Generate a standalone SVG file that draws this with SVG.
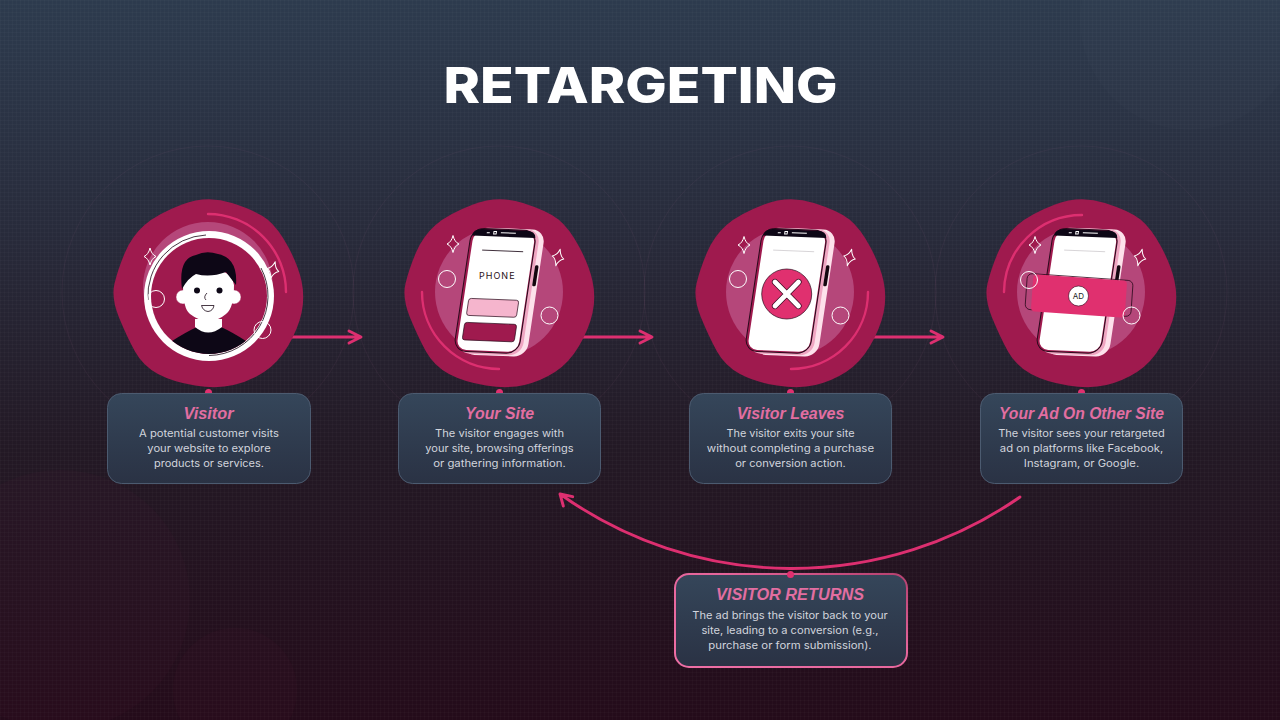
<svg xmlns="http://www.w3.org/2000/svg" width="1280" height="720" viewBox="0 0 1280 720">
<style>
.title{font-family:"Inter","Liberation Sans",sans-serif;font-weight:800;font-size:50px;fill:#ffffff}
.ct{font-family:"Liberation Sans",Arial,sans-serif;font-weight:700;font-style:italic;font-size:16px;fill:#e26ea1;text-anchor:middle}
.cb{font-family:"Inter","Liberation Sans",sans-serif;font-size:10.5px;fill:#d2d5dd;text-anchor:middle}
.card{fill:url(#cardG);stroke:#4c5b70;stroke-width:1}
.dot{fill:#e0306f}
.blob{fill:#9f1a4e}
.disc{fill:#b5477a}
.arc{fill:none;stroke:#dd2f70;stroke-width:2.4;stroke-linecap:round}
.wc{fill:none;stroke:#ffffff;stroke-width:1}
.spark{fill:none;stroke:#ffffff;stroke-width:1;stroke-linejoin:round}
.conn{fill:none;stroke:#dd2f70;stroke-width:2.9;stroke-linecap:round;stroke-linejoin:round}
.ring{fill:none;stroke:rgba(190,120,150,.07);stroke-width:1}
</style>
<defs>
<linearGradient id="bg" x1="0" y1="0" x2="0" y2="1">
<stop offset="0" stop-color="#2d3b4e"/>
<stop offset="0.32" stop-color="#282b3b"/>
<stop offset="0.62" stop-color="#231925"/>
<stop offset="1" stop-color="#240b1a"/>
</linearGradient>
<linearGradient id="cardG" x1="0" y1="0" x2="0" y2="1">
<stop offset="0" stop-color="#35465a"/>
<stop offset="1" stop-color="#2a3244"/>
</linearGradient>
<linearGradient id="retS" x1="0" y1="1" x2="1" y2="0">
<stop offset="0" stop-color="#ee6fa5"/>
<stop offset="0.6" stop-color="#e5659b"/>
<stop offset="1" stop-color="#b5406f"/>
</linearGradient>
<pattern id="grid" width="4" height="4" patternUnits="userSpaceOnUse">
<path d="M4 0H0V4" fill="none" stroke="rgba(255,255,255,.04)" stroke-width="1"/>
</pattern>
<path id="blob" d="M24 -89Q49 -81 59.500 -72.500Q70 -64 80 -45.500Q90 -27 93.500 -11Q97 5 93.500 21Q90 37 80 54Q70 71 56 80Q42 89 25.500 93Q9 97 -13 93.500Q-35 90 -50 82Q-65 74 -73 59.500Q-81 45 -89 25.500Q-97 6 -93.500 -8.500Q-90 -23 -83 -39.500Q-76 -56 -63.500 -67Q-51 -78 -26 -87.500Q-1 -97 24 -89Z"/>
<path id="spark" d="M0 -8.500Q1.500 -2 6 0Q1.500 2 0 8.500Q-1.500 2 -6 0Q-1.500 -2 0 -8.500Z"/>
<g id="phone">
<rect x="-28" y="-63.500" width="65" height="127" rx="13" fill="#fde1eb"/>
<rect x="-33" y="-63.500" width="65" height="126" rx="13" fill="#efa6c2"/>
<rect x="-37" y="-63" width="66" height="124" rx="13" fill="#2a0a1c"/>
<rect x="-36" y="-62" width="64" height="122" rx="12" fill="#9f1a4e"/>
<rect x="-34" y="-60" width="61.500" height="119" rx="10" fill="#ffffff"/>
<path d="M-35 -55Q-35 -62 -26 -62H18Q27.500 -62 28 -55Z" fill="#0d0716"/>
<rect x="32" y="-28" width="3.500" height="21" rx="1.500" fill="#14060f"/>
<path d="M-21 -58.500H-18M-14 -60h2.500v2.500h-2.500zM-7 -59H8" fill="none" stroke="#ffffff" stroke-width="1"/>
</g>
<clipPath id="avatarClip"><circle cx="209" cy="296" r="58"/></clipPath>
</defs>

<rect id="background" width="1280" height="720" fill="url(#bg)"/>
<rect width="1280" height="720" fill="url(#grid)"/>
<g id="decor">
<circle cx="60" cy="600" r="130" fill="rgba(120,30,70,.05)"/>
<circle cx="235" cy="690" r="62" fill="rgba(120,30,70,.06)"/>
<circle cx="1190" cy="20" r="110" fill="rgba(255,255,255,.01)"/>
<circle class="ring" cx="208" cy="292" r="146"/>
<circle class="ring" cx="499" cy="292" r="146"/>
<circle class="ring" cx="790" cy="292" r="146"/>
<circle class="ring" cx="1081" cy="292" r="146"/>
</g>

<text id="title" class="title" x="443.500" y="103.300" textLength="394" lengthAdjust="spacingAndGlyphs">RETARGETING</text>

<g id="connectors">
<path class="conn" d="M290 337H360M349 331L361 337L349 343"/>
<path class="conn" d="M581 337H651M640 331L652 337L640 343"/>
<path class="conn" d="M872 337H942M931 331L943 337L931 343"/>
<path class="conn" d="M1020 497A399 399 0 0 1 560 494M572.700 496.700L560 494L563.300 506"/>
</g>

<g id="node-visitor">
<use href="#blob" class="blob" x="208" y="292"/>
<circle class="disc" cx="208" cy="287" r="65"/>
<path class="arc" d="M208 214A78 78 0 0 1 286 292"/>
<circle cx="209" cy="296" r="65" fill="#ffffff"/>
<circle cx="209" cy="296" r="58" fill="#9f1a4e"/>
<path d="M148 300A61 61 0 0 1 206 235" fill="none" stroke="#1a0716" stroke-width=".8"/>
<path d="M261 268A59.500 59.500 0 0 1 209 355.500" fill="none" stroke="#1a0716" stroke-width=".8"/>
<g clip-path="url(#avatarClip)">
<path d="M172 341Q186 332 197 327L221 327Q232 332 246 341L246 360H172Z" fill="#0d0716"/>
<path d="M195 319H222V327Q208 338 195 327Z" fill="#ffffff"/>
</g>
<circle cx="183" cy="297" r="7" fill="#ffffff" stroke="#9f1a4e" stroke-width=".4"/>
<circle cx="234" cy="297" r="7" fill="#ffffff" stroke="#9f1a4e" stroke-width=".4"/>
<path d="M183 285Q183 309 190 314Q199 321 208 321Q218 321 226 314Q234 308 234 285Q232 270 208 268Q184 270 183 285Z" fill="#ffffff"/>
<path d="M182 289Q178 258 196 255Q206 250 218 254Q238 258 236 285Q232 280 226 272Q210 278 196 274Q188 278 182 289Z" fill="#0d0716"/>
<circle cx="197" cy="290.500" r="3" fill="#0d0716"/>
<circle cx="219.500" cy="290.500" r="3" fill="#0d0716"/>
<path d="M207 293Q203 297 206 300" fill="none" stroke="#1a0716" stroke-width=".8"/>
<path d="M201.500 305.500H214Q213 311 208 311.500Q203 311 201.500 305.500Z" fill="#ffffff" stroke="#1a0716" stroke-width=".8"/>
<use href="#spark" class="spark" x="150" y="256.500"/>
<use href="#spark" class="spark" x="273" y="270" transform="rotate(15 273 270)"/>
<circle class="wc" cx="156" cy="299" r="8.500"/>
<circle class="wc" cx="262.500" cy="330" r="8.500"/>
<circle class="dot" cx="208.500" cy="392.500" r="3.500"/>
<rect class="card" x="107.500" y="393.500" width="203" height="90" rx="14"/>
<text class="ct" x="208.500" y="418.500" textLength="50" lengthAdjust="spacingAndGlyphs">Visitor</text>
<text class="cb" x="209" y="437" textLength="140" lengthAdjust="spacingAndGlyphs">A potential customer visits</text>
<text class="cb" x="209" y="452" textLength="123.300" lengthAdjust="spacingAndGlyphs">your website to explore</text>
<text class="cb" x="209" y="467" textLength="110" lengthAdjust="spacingAndGlyphs">products or services.</text>
</g>

<g id="node-your-site">
<use href="#blob" class="blob" x="499" y="292"/>
<circle class="disc" cx="499" cy="292" r="64"/>
<path class="arc" d="M422 292A77 77 0 0 0 499 369"/>
<use href="#spark" class="spark" x="453" y="244"/>
<use href="#spark" class="spark" x="558" y="257.500" transform="rotate(15 558 257.500)"/>
<circle class="wc" cx="447" cy="279" r="8.500"/>
<circle class="wc" cx="549.500" cy="315.500" r="8.500"/>
<g transform="translate(499 292) matrix(1 .04 -.15 1 0 0)">
<use href="#phone"/>
<path d="M-23 -41H18" stroke="#1a0716" stroke-width=".8"/>
<rect x="-29" y="7.500" width="50" height="17" rx="2.500" fill="#f5b5cd" stroke="#2a0a1c" stroke-width=".7"/>
<rect x="-29.500" y="31.500" width="52" height="17.500" rx="2.500" fill="#9f1a4e" stroke="#2a0a1c" stroke-width=".7"/>
</g>
<text x="497.300" y="279" font-family="Inter,'Liberation Sans',sans-serif" font-size="9" letter-spacing="1" fill="#2a1020" text-anchor="middle">PHONE</text>
<circle class="dot" cx="499.500" cy="392.500" r="3.500"/>
<rect class="card" x="398.500" y="393.500" width="202" height="90" rx="14"/>
<text class="ct" x="499.500" y="418.500" textLength="69" lengthAdjust="spacingAndGlyphs">Your Site</text>
<text class="cb" x="499.500" y="437" textLength="129" lengthAdjust="spacingAndGlyphs">The visitor engages with</text>
<text class="cb" x="499.500" y="452" textLength="148.300" lengthAdjust="spacingAndGlyphs">your site, browsing offerings</text>
<text class="cb" x="499.500" y="467" textLength="132.700" lengthAdjust="spacingAndGlyphs">or gathering information.</text>
</g>

<g id="node-visitor-leaves">
<use href="#blob" class="blob" x="790" y="292"/>
<circle class="disc" cx="790" cy="292" r="64"/>
<path class="arc" d="M868 292A77 77 0 0 1 791 369"/>
<use href="#spark" class="spark" x="744" y="245"/>
<use href="#spark" class="spark" x="849.500" y="257.500" transform="rotate(15 849.500 257.500)"/>
<circle class="wc" cx="738" cy="279" r="8.500"/>
<circle class="wc" cx="840.500" cy="315.500" r="8.500"/>
<g transform="translate(790 292) matrix(1 .04 -.15 1 0 0)">
<use href="#phone"/>
<path d="M-23 -41H18" stroke="#c8c4c8" stroke-width=".7"/>
</g>
<circle cx="786.700" cy="294" r="25" fill="#e0306f" stroke="#2a0a1c" stroke-width=".7"/>
<path d="M775 306L798.500 282M775 282L798.500 306" stroke="#3a0a20" stroke-width="6.200" stroke-linecap="round"/>
<path d="M775 306L798.500 282M775 282L798.500 306" stroke="#ffffff" stroke-width="4.800" stroke-linecap="round"/>
<circle class="dot" cx="790.500" cy="392.500" r="3.500"/>
<rect class="card" x="689.500" y="393.500" width="202" height="90" rx="14"/>
<text class="ct" x="790.500" y="418.500" textLength="107.700" lengthAdjust="spacingAndGlyphs">Visitor Leaves</text>
<text class="cb" x="790.500" y="437" textLength="128" lengthAdjust="spacingAndGlyphs">The visitor exits your site</text>
<text class="cb" x="790.500" y="452" textLength="167.300" lengthAdjust="spacingAndGlyphs">without completing a purchase</text>
<text class="cb" x="790.500" y="467" textLength="110.700" lengthAdjust="spacingAndGlyphs">or conversion action.</text>
</g>

<g id="node-ad">
<use href="#blob" class="blob" x="1081" y="292"/>
<circle class="disc" cx="1081" cy="292" r="64"/>
<path class="arc" d="M1004 292A78 78 0 0 1 1082 215"/>
<use href="#spark" class="spark" x="1035" y="245"/>
<use href="#spark" class="spark" x="1140" y="257.500" transform="rotate(15 1140 257.500)"/>
<g transform="translate(1081 292) matrix(1 .04 -.15 1 0 0)">
<use href="#phone"/>
<path d="M-23 -41H18" stroke="#c8c4c8" stroke-width=".7"/>
</g>
<g transform="translate(1079 296) rotate(4)">
<rect x="-53" y="-19" width="106" height="36" rx="5" fill="none" stroke="#2a0a1c" stroke-width=".8"/>
<rect x="-47" y="-18.500" width="94" height="37" rx="4" fill="#e0306f"/>
</g>
<circle class="wc" cx="1029" cy="280" r="8.500"/>
<circle class="wc" cx="1131.500" cy="315.500" r="8.500"/>
<circle cx="1078.500" cy="296" r="10" fill="#ffffff" stroke="#2a0a1c" stroke-width=".6"/>
<text x="1078.500" y="299" font-family="Inter,'Liberation Sans',sans-serif" font-size="8" fill="#222222" text-anchor="middle">AD</text>
<circle class="dot" cx="1081.500" cy="392.500" r="3.500"/>
<rect class="card" x="980.500" y="393.500" width="202" height="90" rx="14"/>
<text class="ct" x="1081.500" y="418.500" textLength="165" lengthAdjust="spacingAndGlyphs">Your Ad On Other Site</text>
<text class="cb" x="1081.500" y="437" textLength="166.700" lengthAdjust="spacingAndGlyphs">The visitor sees your retargeted</text>
<text class="cb" x="1081.500" y="452" textLength="163.300" lengthAdjust="spacingAndGlyphs">ad on platforms like Facebook,</text>
<text class="cb" x="1081.500" y="467" textLength="115.300" lengthAdjust="spacingAndGlyphs">Instagram, or Google.</text>
</g>

<g id="node-returns">
<rect x="675" y="574" width="232" height="93" rx="14" fill="url(#cardG)" stroke="url(#retS)" stroke-width="2"/>
<circle class="dot" cx="790.500" cy="574.500" r="3.500"/>
<text class="ct" x="790" y="600" textLength="148" lengthAdjust="spacingAndGlyphs">VISITOR RETURNS</text>
<text class="cb" x="790" y="619.300" textLength="195.300" lengthAdjust="spacingAndGlyphs">The ad brings the visitor back to your</text>
<text class="cb" x="790" y="634.300" textLength="177" lengthAdjust="spacingAndGlyphs">site, leading to a conversion (e.g.,</text>
<text class="cb" x="790" y="649.300" textLength="163.300" lengthAdjust="spacingAndGlyphs">purchase or form submission).</text>
</g>
</svg>
